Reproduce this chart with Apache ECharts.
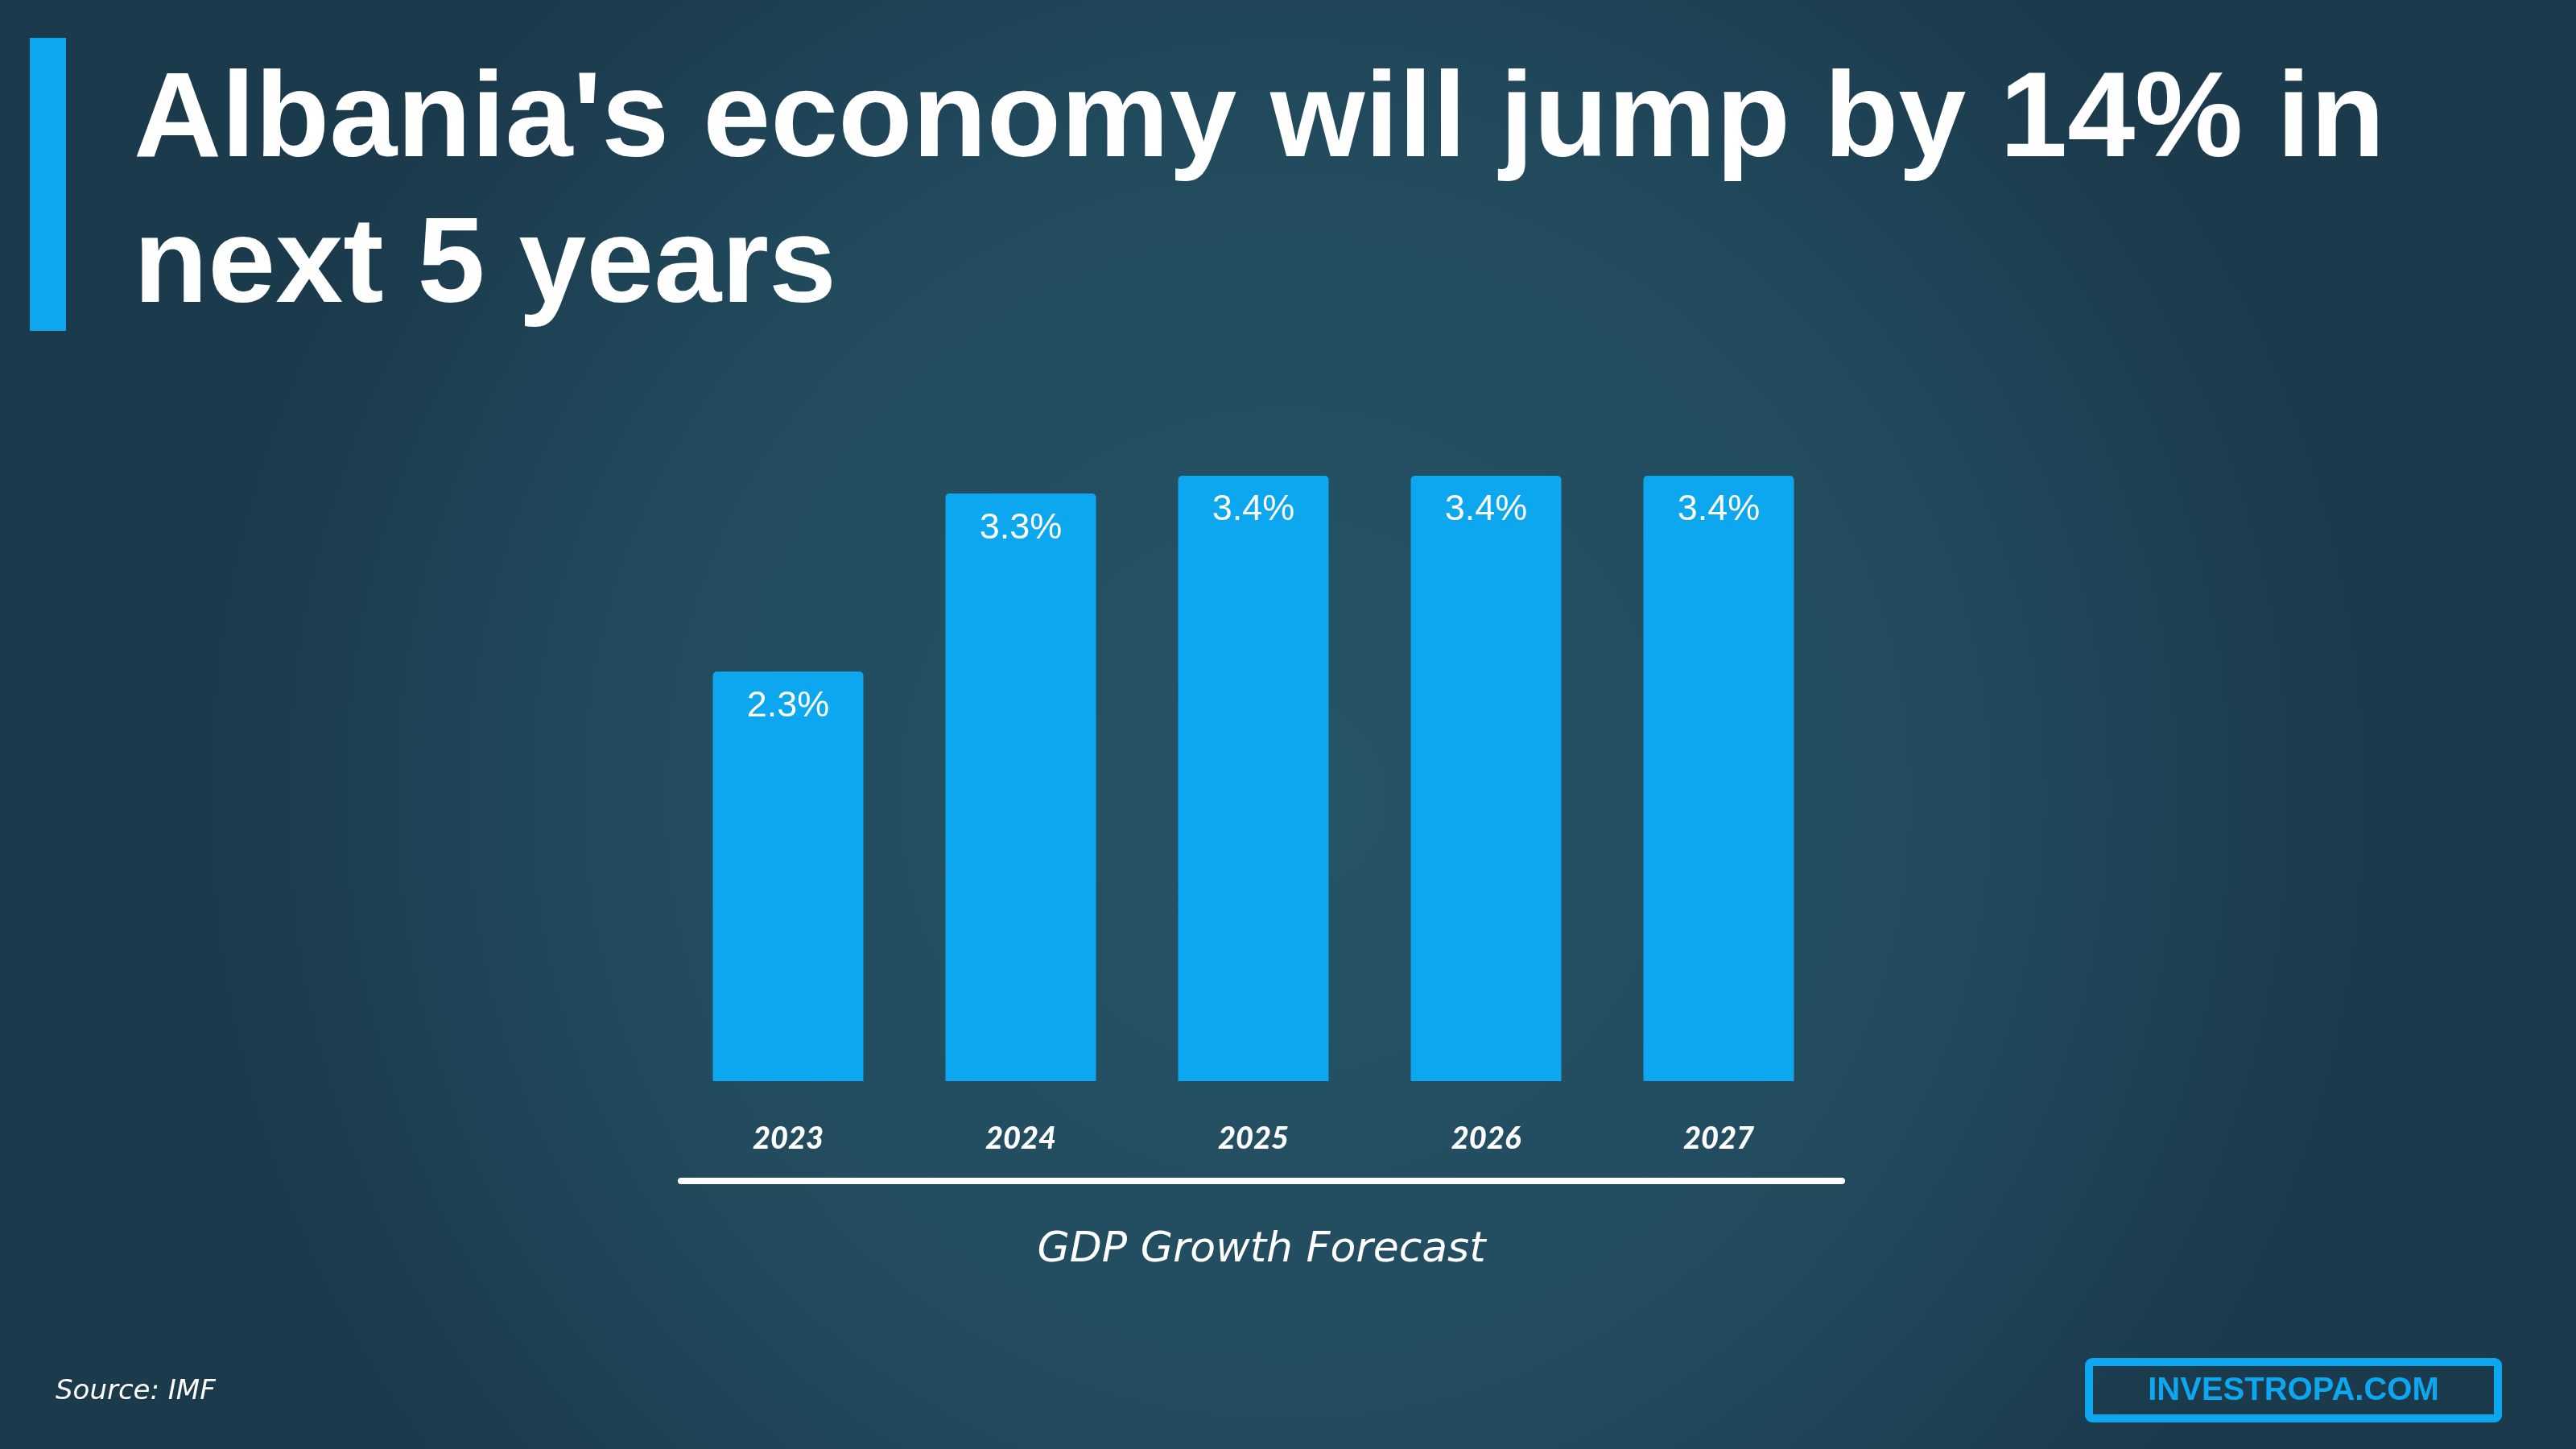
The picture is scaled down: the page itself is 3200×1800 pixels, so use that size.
<!DOCTYPE html>
<html>
<head>
<meta charset="utf-8">
<style>
  html, body { margin: 0; padding: 0; background: #1f4558; }
  #chart { width: 3200px; height: 1800px; }
</style>
<script src="https://cdn.jsdelivr.net/npm/echarts@6/dist/echarts.min.js"></script>
</head>
<body>
<div id="chart"></div>
<script>
const years = ['2023', '2024', '2025', '2026', '2027'];
const gdpGrowth = [2.3, 3.3, 3.4, 3.4, 3.4];
const titleLines = ["Albania's economy will jump by 14% in", "next 5 years"];
const axisTitle = 'GDP Growth Forecast';
const sourceText = 'Source: IMF';
const brandText = 'INVESTROPA.COM';

const BLUE = '#0DA7F0';
const chart = echarts.init(document.getElementById('chart'), null, { renderer: 'canvas' });

chart.setOption({
  animation: false,
  backgroundColor: {
    type: 'radial', x: 0.5, y: 0.55, r: 0.75,
    colorStops: [
      { offset: 0, color: '#265467' },
      { offset: 0.6, color: '#224b5e' },
      { offset: 1, color: '#1b3a4c' }
    ]
  },
  grid: { left: 834.5, width: 1445, top: 591, bottom: 457, containLabel: false },
  xAxis: {
    type: 'category',
    data: years,
    axisLine: { show: false },
    axisTick: { show: false },
    axisLabel: {
      color: '#ffffff',
      fontFamily: 'Lato',
      fontStyle: 'italic',
      fontWeight: 900,
      fontSize: 38,
      margin: 72,
      verticalAlign: 'middle'
    }
  },
  yAxis: {
    type: 'value', min: 0, max: 3.4,
    show: false,
    splitLine: { show: false }
  },
  series: [{
    type: 'bar',
    data: gdpGrowth,
    barWidth: 187,
    itemStyle: { color: BLUE, borderRadius: [5, 5, 0, 0] },
    label: {
      show: true,
      position: ['50%', 43],
      align: 'center',
      verticalAlign: 'middle',
      color: '#ffffff',
      fontFamily: 'Liberation Sans',
      fontSize: 45,
      formatter: p => p.value.toFixed(1) + '%'
    }
  }],
  graphic: [
    { type: 'rect', shape: { x: 37, y: 47, width: 45, height: 364 }, style: { fill: BLUE } },
    { type: 'text', x: 166, y: 152, style: { text: titleLines[0], fill: '#ffffff', font: 'bold 151px "Liberation Sans"', verticalAlign: 'middle' } },
    { type: 'text', x: 166, y: 333, style: { text: titleLines[1], fill: '#ffffff', font: 'bold 151px "Liberation Sans"', verticalAlign: 'middle' } },
    { type: 'line', shape: { x1: 846, y1: 1467, x2: 2288, y2: 1467 }, style: { stroke: '#ffffff', lineWidth: 8, lineCap: 'round' } },
    { type: 'text', x: 1567, y: 1553, style: { text: axisTitle, fill: '#ffffff', font: 'oblique 300 52px "DejaVu Sans"', align: 'center', verticalAlign: 'middle' } },
    { type: 'text', x: 69, y: 1729, style: { text: sourceText, fill: '#ffffff', font: 'oblique 300 34px "DejaVu Sans"', align: 'left', verticalAlign: 'middle' } },
    { type: 'rect', shape: { x: 2595, y: 1692, width: 508, height: 70, r: 4 }, style: { fill: 'none', stroke: BLUE, lineWidth: 10 } },
    { type: 'text', x: 2849, y: 1728, style: { text: brandText, fill: BLUE, font: 'bold 40px "Liberation Sans"', align: 'center', verticalAlign: 'middle' } }
  ]
});
</script>
</body>
</html>
